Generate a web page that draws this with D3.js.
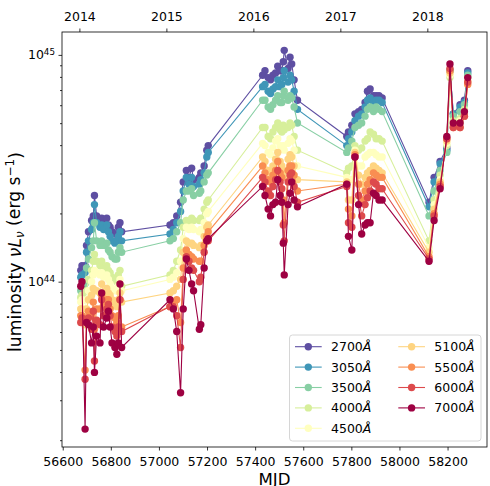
<!DOCTYPE html>
<meta charset="utf-8">
<title>Luminosity light curves</title>
<head>
<script src="https://d3js.org/d3.v7.min.js"></script>
<style>
  body { margin: 0; background: #fff; }
  text { font-family: "DejaVu Sans", sans-serif; fill: #000; }
</style>
</head>
<body>
<script>

// epochs (MJD), one per season line
var mjd = [
    56675, 56680, 56693, 56699, 56707, 56720, 56727, 56732, 56741, 56755, 56762, 56770, 56783, 56790, 56797, 56805, 56817, 56825, 56831, 56838, 56845,
    57046, 57060, 57074, 57090, 57101, 57114, 57125, 57136, 57144, 57168, 57174, 57188, 57199, 57205,
    57431, 57441, 57454, 57464, 57474, 57485, 57494, 57504, 57511, 57517, 57521, 57537, 57545, 57552, 57562, 57576,
    57781, 57788, 57802, 57815, 57830, 57843, 57857, 57867, 57878, 57892, 57903, 57915, 57928,
    58123, 58144, 58169, 58197, 58210, 58224, 58252, 58270, 58284
];

// log10 of nu L_nu (erg/s) per wavelength
var logL2700 = [
    44.05, 44.07, 44.07, 44.16, 44.22, 44.27, 44.29, 44.38, 44.29, 44.27, 44.28, 44.26, 44.28, 44.25, 44.24, 44.22, 44.21, 44.21, 44.24, 44.26, 44.22,
    44.25, 44.26, 44.29, 44.35, 44.44, 44.49, 44.46, 44.50, 44.45, 44.46, 44.48, 44.51, 44.58, 44.60,
    44.91, 44.93, 44.90, 44.89, 44.91, 44.92, 44.95, 44.93, 44.93, 44.97, 45.02, 44.94, 44.99, 44.96, 44.89, 44.80,
    44.64, 44.66, 44.69, 44.74, 44.75, 44.76, 44.79, 44.84, 44.85, 44.82, 44.82, 44.82, 44.81,
    44.35, 44.46, 44.53, 44.59, 44.93, 44.74, 44.78, 44.80, 44.93
];
var logL3050 = [
    44.02, 44.03, 44.04, 44.13, 44.18, 44.23, 44.26, 44.34, 44.26, 44.24, 44.25, 44.23, 44.25, 44.22, 44.20, 44.18, 44.17, 44.18, 44.20, 44.22, 44.18,
    44.21, 44.23, 44.26, 44.31, 44.40, 44.46, 44.43, 44.46, 44.42, 44.43, 44.45, 44.48, 44.55, 44.57,
    44.86, 44.87, 44.84, 44.83, 44.85, 44.86, 44.89, 44.86, 44.87, 44.90, 44.93, 44.88, 44.91, 44.89, 44.84, 44.76,
    44.60, 44.63, 44.66, 44.71, 44.73, 44.74, 44.77, 44.80, 44.81, 44.79, 44.80, 44.80, 44.79,
    44.33, 44.44, 44.52, 44.58, 44.93, 44.74, 44.77, 44.79, 44.92
];
var logL3500 = [
    43.96, 43.98, 43.99, 44.06, 44.10, 44.15, 44.18, 44.26, 44.18, 44.16, 44.18, 44.16, 44.17, 44.14, 44.13, 44.11, 44.10, 44.10, 44.13, 44.15, 44.13,
    44.18, 44.19, 44.22, 44.26, 44.36, 44.40, 44.40, 44.41, 44.38, 44.39, 44.40, 44.44, 44.47, 44.48,
    44.80, 44.80, 44.77, 44.76, 44.78, 44.80, 44.82, 44.79, 44.79, 44.82, 44.84, 44.80, 44.82, 44.81, 44.77, 44.70,
    44.57, 44.59, 44.62, 44.68, 44.69, 44.70, 44.73, 44.76, 44.77, 44.75, 44.77, 44.76, 44.75,
    44.29, 44.40, 44.49, 44.57, 44.93, 44.73, 44.75, 44.78, 44.91
];
var logL4000 = [
    43.93, 43.94, 43.92, 43.96, 44.01, 44.05, 44.09, 44.12, 44.09, 44.07, 44.09, 44.06, 44.07, 44.05, 44.04, 44.02, 44.01, 44.00, 44.03, 44.05, 43.98,
    44.03, 44.05, 44.09, 44.14, 44.24, 44.27, 44.26, 44.28, 44.27, 44.27, 44.28, 44.32, 44.35, 44.36,
    44.68, 44.68, 44.64, 44.63, 44.66, 44.68, 44.70, 44.67, 44.66, 44.69, 44.67, 44.68, 44.70, 44.69, 44.64, 44.58,
    44.48, 44.50, 44.51, 44.60, 44.58, 44.59, 44.62, 44.63, 44.66, 44.65, 44.63, 44.63, 44.62,
    44.18, 44.36, 44.47, 44.60, 44.90, 44.71, 44.72, 44.76, 44.90
];
var logL4500 = [
    43.91, 43.92, 43.88, 43.92, 43.96, 44.00, 44.03, 44.05, 44.04, 44.03, 44.04, 44.02, 44.03, 44.01, 43.99, 43.97, 43.96, 43.96, 43.98, 44.01, 43.96,
    44.01, 44.02, 44.04, 44.09, 44.19, 44.24, 44.23, 44.24, 44.23, 44.22, 44.23, 44.26, 44.30, 44.31,
    44.61, 44.60, 44.57, 44.56, 44.59, 44.62, 44.63, 44.60, 44.59, 44.60, 44.58, 44.61, 44.63, 44.62, 44.58, 44.51,
    44.46, 44.45, 44.45, 44.58, 44.51, 44.51, 44.55, 44.56, 44.57, 44.57, 44.56, 44.55, 44.55,
    44.15, 44.34, 44.45, 44.61, 44.91, 44.70, 44.71, 44.75, 44.89
];
var logL5100 = [
    43.88, 43.88, 43.81, 43.88, 43.92, 43.94, 43.97, 43.96, 43.96, 43.95, 43.99, 43.95, 43.97, 43.95, 43.94, 43.92, 43.90, 43.89, 43.92, 43.95, 43.91,
    43.95, 43.96, 43.98, 44.01, 44.13, 44.18, 44.17, 44.17, 44.16, 44.15, 44.16, 44.20, 44.24, 44.25,
    44.55, 44.53, 44.49, 44.48, 44.51, 44.54, 44.57, 44.53, 44.51, 44.49, 44.46, 44.54, 44.56, 44.55, 44.51, 44.45,
    44.44, 44.36, 44.36, 44.57, 44.47, 44.43, 44.46, 44.48, 44.49, 44.51, 44.50, 44.49, 44.48,
    44.13, 44.32, 44.44, 44.62, 44.92, 44.69, 44.70, 44.74, 44.88
];
var logL5500 = [
    43.85, 43.85, 43.61, 43.84, 43.87, 43.85, 43.91, 43.79, 43.88, 43.88, 43.94, 43.90, 43.92, 43.92, 43.88, 43.85, 43.84, 43.82, 43.85, 43.92, 43.80,
    43.89, 43.91, 43.92, 43.82, 44.06, 44.14, 44.12, 44.11, 44.10, 44.09, 44.09, 44.16, 44.20, 44.22,
    44.51, 44.48, 44.45, 44.44, 44.47, 44.49, 44.53, 44.48, 44.46, 44.36, 44.26, 44.49, 44.51, 44.51, 44.47, 44.40,
    44.43, 44.32, 44.29, 44.56, 44.43, 44.36, 44.40, 44.43, 44.45, 44.48, 44.47, 44.46, 44.46,
    44.11, 44.30, 44.43, 44.63, 44.93, 44.68, 44.68, 44.73, 44.87
];
var logL6000 = [
    43.82, 43.84, 43.57, 43.82, 43.84, 43.79, 43.87, 43.65, 43.83, 43.81, 43.92, 43.85, 43.88, 43.90, 43.85, 43.80, 43.78, 43.76, 43.80, 43.92, 43.78,
    43.89, 43.89, 43.85, 43.71, 44.01, 44.11, 44.09, 44.06, 44.05, 44.00, 44.02, 44.13, 44.18, 44.18,
    44.46, 44.44, 44.40, 44.38, 44.42, 44.45, 44.49, 44.44, 44.41, 44.25, 44.18, 44.44, 44.47, 44.48, 44.42, 44.35,
    44.42, 44.26, 44.24, 44.55, 44.38, 44.29, 44.34, 44.37, 44.40, 44.44, 44.43, 44.41, 44.41,
    44.10, 44.29, 44.42, 44.63, 44.94, 44.68, 44.68, 44.73, 44.88
];
var logL7000 = [
    43.98, 44.00, 43.35, 43.82, 43.81, 43.73, 43.80, 43.60, 43.76, 43.73, 43.95, 43.80, 43.84, 43.87, 43.80, 43.73, 43.71, 43.68, 43.73, 43.99, 43.71,
    43.92, 43.88, 43.78, 43.51, 43.88, 44.10, 44.05, 43.99, 43.96, 43.79, 43.81, 44.06, 44.18, 44.19,
    44.42, 44.38, 44.32, 44.29, 44.34, 44.35, 44.45, 44.38, 44.35, 44.17, 44.03, 44.34, 44.39, 44.44, 44.36, 44.33,
    44.43, 44.20, 44.14, 44.55, 44.34, 44.21, 44.25, 44.26, 44.26, 44.39, 44.38, 44.36, 44.36,
    44.09, 44.27, 44.41, 44.64, 44.96, 44.70, 44.70, 44.75, 44.90
];

var wavelengths = [2700, 3050, 3500, 4000, 4500, 5100, 5500, 6000, 7000];
var mjdTicks = [56600, 56800, 57000, 57200, 57400, 57600, 57800, 58000, 58200];
var yearTicks = [2014, 2015, 2016, 2017, 2018];
var lumTicks = [1e44, 1e45];

var colors = ["#5e4fa2", "#3f96b7", "#88cfa4", "#d7ef9b", "#ffffbf",
              "#fed481", "#f98e52", "#dd4a4c", "#9e0142"];

var series = [logL2700, logL3050, logL3500, logL4000, logL4500,
              logL5100, logL5500, logL6000, logL7000].map(function (v, i) {
    return {wl: wavelengths[i], values: v, color: colors[i]};
});

var width = 490, height = 486,
    pLeft = 62, pRight = 487, pTop = 32, pBottom = 447;

var svg = d3.select("body").append("svg")
        .attr("width", width)
        .attr("height", height);

var x = d3.scaleLinear().domain([56597, 58364]).range([pLeft, pRight]);
var xYear = d3.scaleLinear().domain([2013.80, 2018.686]).range([pLeft, pRight]);
var y = d3.scaleLog().domain([Math.pow(10, 43.271), Math.pow(10, 45.101)]).range([pBottom, pTop]);

// minor log ticks 2..9 per decade
var minorTicks = [];
[1e43, 1e44].forEach(function (dec) {
    for (var k = 2; k <= 9; k++) {
        var v = dec * k;
        if (v > y.domain()[0] && v < y.domain()[1]) minorTicks.push(v);
    }
});

var line = d3.line()
        .x(function (d, i) { return x(mjd[i]); })
        .y(function (d) { return y(Math.pow(10, d)); });

var plot = svg.append("g");
series.forEach(function (s) {
    var g = plot.append("g");
    g.append("path")
            .attr("d", line(s.values))
            .attr("fill", "none")
            .attr("stroke", s.color)
            .attr("stroke-width", 1.1);
    g.selectAll("circle").data(s.values).enter().append("circle")
            .attr("cx", function (d, i) { return x(mjd[i]); })
            .attr("cy", function (d) { return y(Math.pow(10, d)); })
            .attr("r", 3.7)
            .attr("fill", s.color);
});

// axes
var xAxis = svg.append("g").attr("transform", "translate(0," + pBottom + ")")
        .call(d3.axisBottom(x).tickValues(mjdTicks).tickSize(3.5).tickPadding(6.5)
                .tickFormat(d3.format("d")));
var topAxis = svg.append("g").attr("transform", "translate(0," + pTop + ")")
        .call(d3.axisTop(xYear).tickValues(yearTicks).tickSize(3.5).tickPadding(7.8)
                .tickFormat(d3.format("d")));
var yMinor = svg.append("g").attr("transform", "translate(" + pLeft + ",0)")
        .call(d3.axisLeft(y).tickValues(minorTicks).tickSize(2).tickFormat(""));
var yAxis = svg.append("g").attr("transform", "translate(" + pLeft + ",0)")
        .call(d3.axisLeft(y).tickValues(lumTicks).tickSize(3.5).tickPadding(3.5)
                .tickFormat(function () { return ""; }));

[xAxis, topAxis, yMinor, yAxis].forEach(function (a) {
    a.select(".domain").remove();
    a.selectAll(".tick line").attr("stroke", "#000").attr("stroke-width", 0.8);
    a.selectAll("text").style("font-size", "12.5px").attr("fill", "#000");
});

yAxis.selectAll(".tick text").each(function (d) {
    var t = d3.select(this).attr("dy", "0.32em");
    t.append("tspan").text("10");
    t.append("tspan").attr("dy", "-0.45em").style("font-size", "8.75px")
            .text(Math.round(Math.log10(d)));
});

svg.append("rect")
        .attr("x", pLeft).attr("y", pTop)
        .attr("width", pRight - pLeft).attr("height", pBottom - pTop)
        .attr("fill", "none").attr("stroke", "#000").attr("stroke-width", 0.8);

// axis labels
svg.append("text")
        .attr("x", (pLeft + pRight) / 2).attr("y", 485)
        .attr("text-anchor", "middle")
        .style("font-size", "16.6px")
        .text("MJD");

var yl = svg.append("text")
        .attr("transform", "translate(21,252) rotate(-90)")
        .attr("text-anchor", "middle")
        .style("font-size", "17.2px");
yl.append("tspan").text("luminosity ");
yl.append("tspan").style("font-style", "italic").text("\u03bdL");
yl.append("tspan").style("font-style", "italic").style("font-size", "12px")
        .attr("dy", "0.25em").text("\u03bd");
yl.append("tspan").attr("dy", "-0.25em").text(" (erg s");
yl.append("tspan").style("font-size", "12px").attr("dy", "-0.45em").text("\u22121");
yl.append("tspan").attr("dy", "0.45em").text(")");

// legend
var lg = svg.append("g");
lg.append("rect")
        .attr("x", 289.5).attr("y", 335).attr("width", 191.5).attr("height", 106)
        .attr("rx", 3)
        .attr("fill", "#fff").attr("fill-opacity", 0.8)
        .attr("stroke", "#cccccc").attr("stroke-width", 0.8);

series.forEach(function (s, i) {
    var col = i < 5 ? 0 : 1, row = i < 5 ? i : i - 5;
    var x0 = col === 0 ? 295 : 398.3, yy = 346.7 + row * 20.4;
    var item = lg.append("g");
    item.append("line")
            .attr("x1", x0).attr("x2", x0 + 26.7)
            .attr("y1", yy).attr("y2", yy)
            .attr("stroke", s.color).attr("stroke-width", 1.1);
    item.append("circle")
            .attr("cx", x0 + 13.3).attr("cy", yy).attr("r", 3.7)
            .attr("fill", s.color);
    var t = item.append("text")
            .attr("x", x0 + 36).attr("y", yy).attr("dy", "0.36em")
            .style("font-size", "12.5px");
    t.append("tspan").text(s.wl);
    t.append("tspan").style("font-style", "italic").text("\u00c5");
});

</script>
</body>
